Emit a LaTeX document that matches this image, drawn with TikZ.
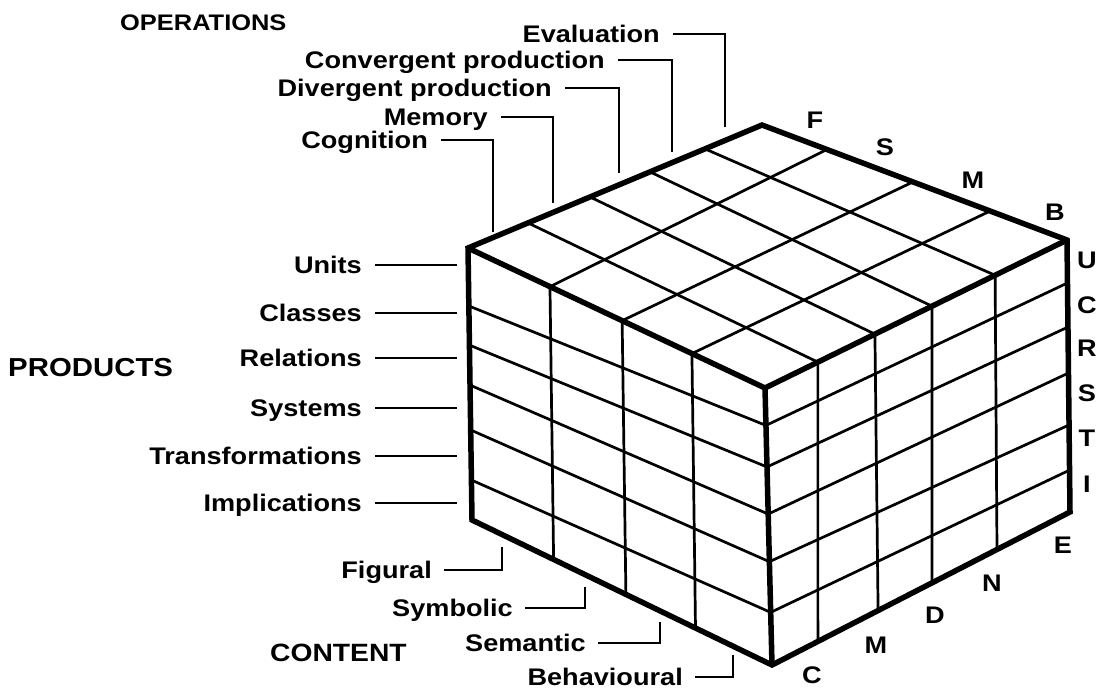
\documentclass[tikz,border=0pt]{standalone}
\usepackage{fontspec}
\setmainfont{Liberation Sans}[FakeStretch=1.13]
\usetikzlibrary{calc}
\begin{document}
\begin{tikzpicture}[x=1pt,y=-1pt,
  edge/.style={line width=5.5pt},
  grid/.style={line width=2.7pt},
  leader/.style={line width=2.4pt},
  lbl/.style={font=\fontsize{24}{28}\selectfont\bfseries, inner sep=0pt, text height=17pt, text depth=0pt},
  hdr/.style={inner sep=0pt, text height=17pt, text depth=0pt, anchor=west},
  ltr/.style={font=\fontsize{24}{28}\selectfont\bfseries, inner sep=0pt, text height=17pt, text depth=0pt}]
\useasboundingbox (0,0) rectangle (1114,689);
% cube corners
\coordinate (A) at (468,248);
\coordinate (T) at (762,125);
\coordinate (R) at (1067,240);
\coordinate (B) at (765,388);
\coordinate (C) at (772,665);
\coordinate (Rb) at (1070,512);
\coordinate (Lb) at (472,520);
% top face grid
\foreach \a/\b in {0.204/0.175, 0.415/0.364, 0.619/0.553, 0.806/0.762}
  \draw[grid] ($(A)!\a!(T)$) -- ($(B)!\b!(R)$);
\foreach \a/\b in {0.276/0.213, 0.519/0.495, 0.754/0.748}
  \draw[grid] ($(A)!\a!(B)$) -- ($(T)!\b!(R)$);
% left face grid
\foreach \a/\b in {0.276/0.272, 0.519/0.513, 0.754/0.745}
  \draw[grid] ($(A)!\a!(B)$) -- ($(Lb)!\b!(C)$);
\foreach \a/\b in {0.213/0.135, 0.357/0.285, 0.504/0.455, 0.669/0.627, 0.853/0.81}
  \draw[grid] ($(A)!\a!(Lb)$) -- ($(B)!\b!(C)$);
% right face grid
\foreach \a/\b in {0.175/0.154, 0.364/0.356, 0.553/0.537, 0.762/0.755}
  \draw[grid] ($(B)!\a!(R)$) -- ($(C)!\b!(Rb)$);
\foreach \a/\b in {0.135/0.158, 0.285/0.320, 0.455/0.489, 0.627/0.680, 0.81/0.846}
  \draw[grid] ($(B)!\a!(C)$) -- ($(R)!\b!(Rb)$);
% cube edges
\draw[edge] (A) -- (T) -- (R) -- (Rb) -- (C) -- (Lb) -- cycle;
\draw[edge] (A) -- (B) -- (R);
\draw[edge] (B) -- (C);

% headers
\node[hdr, font=\fontsize{22.5}{27}\selectfont\bfseries] (hops) at (120,22) {OPERATIONS};
\node[hdr, font=\fontsize{26}{30}\selectfont\bfseries] (hprod) at (8,368) {PRODUCTS};
\node[hdr, font=\fontsize{25}{29}\selectfont\bfseries] (hcont) at (270,653) {CONTENT};

% operations labels
\node[lbl, anchor=east] (ev) at (660,34) {Evaluation};
\node[lbl, anchor=east] (cp) at (605,60) {Convergent production};
\node[lbl, anchor=east] (dp) at (552,88) {Divergent production};
\node[lbl, anchor=east] (me) at (488,117) {Memory};
\node[lbl, anchor=east] (co) at (428,140) {Cognition};
\coordinate (evE) at (725,127);
\coordinate (cpE) at (672,152);
\coordinate (dpE) at (619,173);
\coordinate (meE) at (553,203);
\coordinate (coE) at (493,232);
\foreach \n in {ev,cp,dp,me,co}
  \draw[leader] ([xshift=13pt]\n.east) -| (\n E);

% products labels
\node[lbl, anchor=east] (un) at (362,265) {Units};
\node[lbl, anchor=east] (cl) at (362,313) {Classes};
\node[lbl, anchor=east] (re) at (362,358) {Relations};
\node[lbl, anchor=east] (sy) at (362,408) {Systems};
\node[lbl, anchor=east] (tr) at (362,456) {Transformations};
\node[lbl, anchor=east] (im) at (362,503) {Implications};
\foreach \n in {un,cl,re,sy,tr,im}
  \draw[leader] ([xshift=13pt]\n.east) -- ([xshift=95pt]\n.east);

% content labels
\node[lbl, anchor=east] (fi) at (432,570) {Figural};
\node[lbl, anchor=east] (sb) at (513,608) {Symbolic};
\node[lbl, anchor=east] (se) at (586,643) {Semantic};
\node[lbl, anchor=east] (be) at (683,677) {Behavioural};
\coordinate (fiE) at (502,547);
\coordinate (sbE) at (585,587);
\coordinate (seE) at (660,622);
\coordinate (beE) at (733,655);
\foreach \n in {fi,sb,se,be}
  \draw[leader] ([xshift=12pt]\n.east) -| (\n E);

% letters along top back edge
\node[ltr] (lF) at (815,120) {F};
\node[ltr] (lS) at (885,147) {S};
\node[ltr] (lM) at (973,180) {M};
\node[ltr] (lB) at (1055,212) {B};
% letters on the right
\node[ltr] (rU) at (1087,260) {U};
\node[ltr] (rC) at (1087,305) {C};
\node[ltr] (rR) at (1087,348) {R};
\node[ltr] (rS) at (1087,393) {S};
\node[ltr] (rT) at (1087,438) {T};
\node[ltr] (rI) at (1087,484) {I};
% letters along bottom right edge
\node[ltr] (bE) at (1063,545) {E};
\node[ltr] (bN) at (992,583) {N};
\node[ltr] (bD) at (935,615) {D};
\node[ltr] (bM) at (876,645) {M};
\node[ltr] (bC) at (812,675) {C};
\end{tikzpicture}
\end{document}
